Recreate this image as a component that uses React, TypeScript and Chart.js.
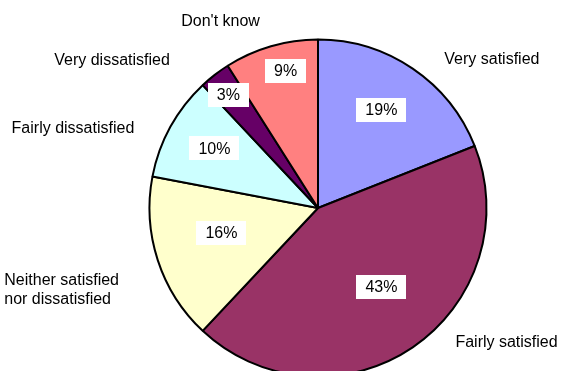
import React, { useEffect, useRef } from "react";
import { Chart, registerables } from "chart.js";

Chart.register(...registerables);

const categories = [
  "Very satisfied",
  "Fairly satisfied",
  "Neither satisfied\nnor dissatisfied",
  "Fairly dissatisfied",
  "Very dissatisfied",
  "Don't know",
];
const values = [19, 43, 16, 10, 3, 9];
const percentLabels = ["19%", "43%", "16%", "10%", "3%", "9%"];
const colors = ["#9999FF", "#993366", "#FFFFCC", "#CCFFFF", "#660066", "#FF8080"];

// label placement: [angle offset from slice middle (deg), radius factor]
const valueLabelPlacement: [number, number][] = [
  [-1.4, 0.694],
  [-4.7, 0.6],
  [3.5, 0.592],
  [1.1, 0.709],
  [-0.5, 0.858],
  [2.9, 0.836],
];
const categoryLabelPlacement: [number, number][] = [
  [15.2, 1.359],
  [-20.5, 1.371],
  [0.4, 1.596],
  [-10.6, 1.531],
  [-16.4, 1.507],
  [-11.3, 1.252],
];

const FONT = '16px "Liberation Sans", Arial, sans-serif';

const labelPlugin = {
  id: "pieLabels",
  afterDatasetsDraw(chart: any) {
    const ctx = chart.ctx as CanvasRenderingContext2D;
    const meta = chart.getDatasetMeta(0);
    ctx.save();
    ctx.font = FONT;
    ctx.textAlign = "center";
    ctx.textBaseline = "middle";
    meta.data.forEach((arc: any, i: number) => {
      const { x, y, startAngle, endAngle, outerRadius } = arc.getProps(
        ["x", "y", "startAngle", "endAngle", "outerRadius"],
        true
      );
      const mid = (startAngle + endAngle) / 2;
      // value label
      const [dv, fv] = valueLabelPlacement[i];
      const av = mid + (dv * Math.PI) / 180;
      const vx = x + outerRadius * fv * Math.cos(av);
      const vy = y + outerRadius * fv * Math.sin(av);
      const txt = percentLabels[i];
      const tw = ctx.measureText(txt).width;
      const bw = tw + 18;
      const bh = 24;
      ctx.fillStyle = "#FFFFFF";
      ctx.fillRect(Math.round(vx - bw / 2), Math.round(vy - bh / 2), Math.round(bw), bh);
      ctx.fillStyle = "#000000";
      ctx.fillText(txt, vx, vy + 1);
      // category label
      const [dc, fc] = categoryLabelPlacement[i];
      const ac = mid + (dc * Math.PI) / 180;
      const cx = x + outerRadius * fc * Math.cos(ac);
      const cy = y + outerRadius * fc * Math.sin(ac);
      const lines = categories[i].split("\n");
      const lh = 19;
      if (lines.length > 1) {
        ctx.textAlign = "left";
        const widest = Math.max(...lines.map((l) => ctx.measureText(l).width));
        lines.forEach((l, k) => {
          ctx.fillText(l, cx - widest / 2, cy + (k - (lines.length - 1) / 2) * lh + 1);
        });
        ctx.textAlign = "center";
      } else {
        ctx.fillText(lines[0], cx, cy + 1);
      }
    });
    ctx.restore();
  },
};

export default function App() {
  const canvasRef = useRef<HTMLCanvasElement | null>(null);

  useEffect(() => {
    document.body.style.margin = "0";
    document.body.style.background = "#FFFFFF";
    const canvas = canvasRef.current;
    if (!canvas) return;
    const chart = new Chart(canvas, {
      type: "pie",
      data: {
        labels: categories,
        datasets: [
          {
            data: values,
            backgroundColor: colors,
            borderColor: "#000000",
            borderWidth: 2,
          },
        ],
      },
      options: {
        animation: false,
        responsive: false,
        devicePixelRatio: 1,
        radius: 168.5,
        layout: { padding: { left: 75, right: 0, top: 0, bottom: 0 } },
        plugins: {
          legend: { display: false },
          tooltip: { enabled: false },
        },
      } as any,
      plugins: [labelPlugin],
    });
    return () => chart.destroy();
  }, []);

  return (
    <div
      style={{
        position: "relative",
        width: 561,
        height: 371,
        overflow: "hidden",
        background: "#FFFFFF",
      }}
    >
      <canvas ref={canvasRef} width={561} height={416} style={{ display: "block" }} />
    </div>
  );
}
